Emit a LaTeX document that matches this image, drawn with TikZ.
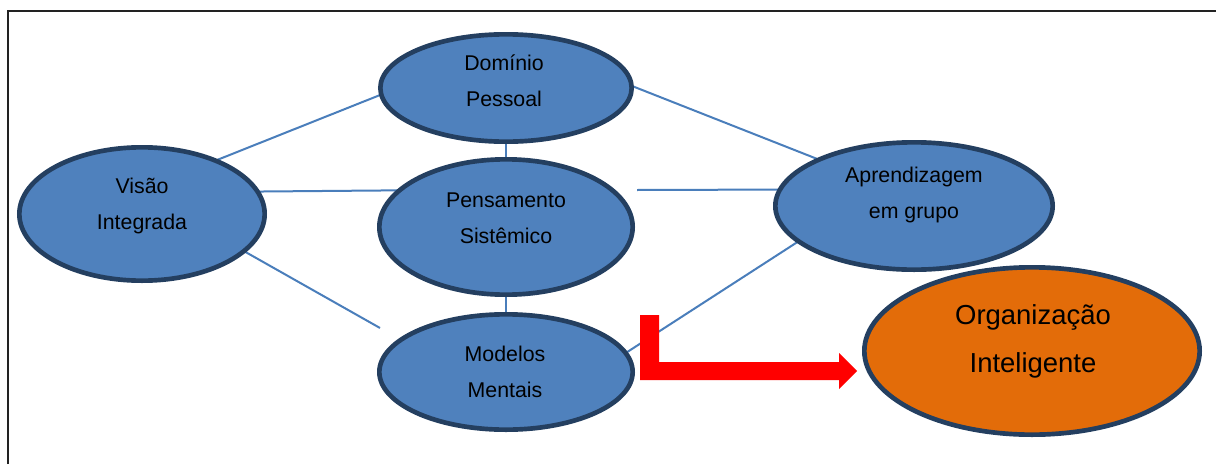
\documentclass[tikz,border=0pt]{standalone}
\usepackage{fontspec}
\setmainfont{Liberation Sans}
\usetikzlibrary{shapes.geometric}
\pgfdeclarelayer{bg}
\pgfsetlayers{bg,main}
\definecolor{ellblue}{HTML}{4F81BD}
\definecolor{ellborder}{HTML}{243F60}
\definecolor{orgfill}{HTML}{E36C09}
\definecolor{linkblue}{HTML}{4A7EBB}
\definecolor{framegray}{HTML}{222222}
\begin{document}
\begin{tikzpicture}[x=0.75pt,y=-0.75pt,
  ell/.style={ellipse, draw=ellborder, line width=3.5pt, fill=ellblue, inner sep=0pt, outer sep=0pt},
  lbl/.style={align=center, font=\fontsize{16}{27}\selectfont, text=black, inner sep=0pt},
  biglbl/.style={align=center, font=\fontsize{20.6}{36}\selectfont, text=black, inner sep=0pt},
  link/.style={draw=linkblue, line width=1.5pt},
  frameline/.style={draw=framegray, line width=1.2pt}]
\useasboundingbox (0,0) rectangle (1216,464);
% frame
\draw[frameline] (8,464) -- (8,11) -- (1216,11);
% ellipses
\node[ell, minimum width=184pt, minimum height=100pt] (vis) at (142,214) {};
\node[ell, minimum width=188.5pt, minimum height=80.5pt] (dom) at (506,88) {};
\node[ell, minimum width=190pt, minimum height=101.5pt] (pen) at (506,227) {};
\node[ell, minimum width=190pt, minimum height=86.5pt] (mod) at (506,372) {};
\node[ell, minimum width=208pt, minimum height=95.5pt] (apr) at (914,206) {};
\node[ell, fill=orgfill, minimum width=251.5pt, minimum height=125.5pt] (org) at (1032,351) {};
% labels
\node[lbl] (domt) at (504,81) {Domínio\\Pessoal};
\node[lbl] (pent) at (506,218) {Pensamento\\Sistêmico};
\node[lbl] (modt) at (505,372) {Modelos\\Mentais};
\node[lbl] (vist) at (142,206) {Visão\\Integrada};
\node[lbl] (aprt) at (914,195) {Aprendizagem\\em grupo};
\node[biglbl] (orgt) at (1033,341) {Organização\\Inteligente};
% free ends
\coordinate (m1) at (380,328);
\coordinate (p1) at (637,190);
% connectors
\begin{pgfonlayer}{bg}
\draw[link] (vis.36.9) -- (dom.183.6);
\draw[link] (vis.11.6) -- (pen.161.3);
\draw[link] (vis.340.3) -- (m1);
\draw[link] (dom.south) -- (pen.north);
\draw[link] (pen.south) -- (mod.north);
\draw[link] (dom.1) -- (apr.154);
\draw[link] (p1) -- (apr.173.3);
\draw[link] (mod.9.6) -- (apr.197.1);
\end{pgfonlayer}
% red L arrow
\fill[red] (640,315) -- (659,315) -- (659,362) -- (839,362) -- (839,353) -- (857,371)
  -- (839,389) -- (839,380) -- (640,380) -- cycle;
\end{tikzpicture}
\end{document}
